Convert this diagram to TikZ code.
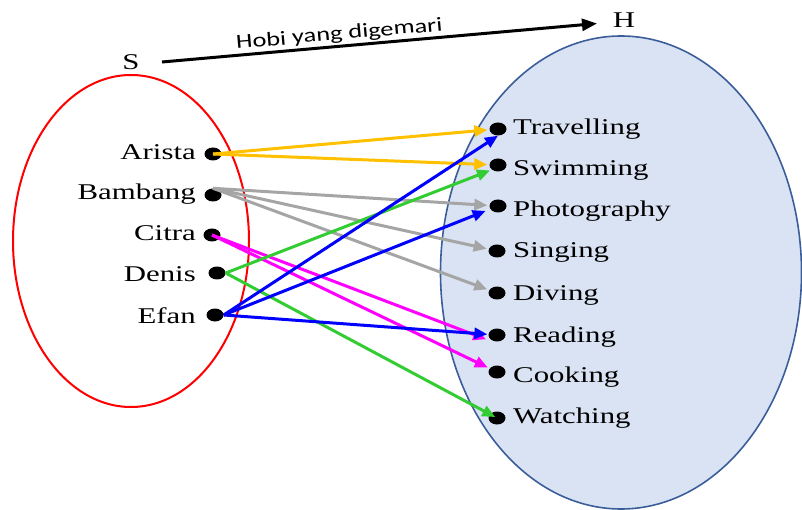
\documentclass[tikz,border=0pt]{standalone}
\usepackage{fontspec}
\usepackage{graphicx}
\setmainfont{Liberation Serif}
\newfontfamily\calfont{Carlito}
\usetikzlibrary{arrows.meta,shapes.geometric,calc}
\definecolor{cyel}{HTML}{FFC000}
\definecolor{cgry}{HTML}{A5A5A5}
\definecolor{cmag}{HTML}{FF00FF}
\definecolor{cgrn}{HTML}{33CC33}
\definecolor{cblu}{HTML}{0000FF}
\definecolor{ebord}{HTML}{3B5E9A}
\definecolor{efill}{HTML}{DAE3F3}
\newcommand\sxt[1]{\scalebox{1.37}[1]{#1}}
\begin{document}
\begin{tikzpicture}[x=1pt,y=-1pt,
  dotnode/.style={ellipse,fill=black,minimum width=17pt,minimum height=13pt,inner sep=0pt},
  lbl/.style={inner sep=0pt,font=\fontsize{22.5}{26}\selectfont},
  conn/.style={line width=3pt,-{Triangle[length=13pt,width=11pt]},shorten >=2pt},
  mainarr/.style={line width=3pt,-{Triangle[length=15pt,width=12pt]}}
]
\useasboundingbox (0,0) rectangle (802,510);
% sets
\draw[draw=ebord,fill=efill,line width=1.6pt] (621,272.5) ellipse [x radius=180.5pt, y radius=236.5pt];
\draw[red,line width=2pt] (131,241) ellipse [x radius=118pt, y radius=166pt];
% titles
\node[lbl] (S) at (131,62) {\sxt{S}};
\node[lbl] (H) at (624,20) {\sxt{H}};
\coordinate (a0) at (162,62);
\coordinate (a1) at (597,23.5);
\draw[mainarr] (a0) -- (a1) node[pos=0.41,sloped,above=1.5pt,inner sep=0pt,font=\calfont\fontsize{20}{24}\selectfont] (lab) {\scalebox{1.32}[1]{Hobi yang digemari}};
% left dots and labels
\node[dotnode] (arista) at (213,154) {};
\node[dotnode] (bambang) at (213,195) {};
\node[dotnode] (citra) at (212,235) {};
\node[dotnode] (denis) at (217,273) {};
\node[dotnode] (efan) at (215,315) {};
\node[lbl,anchor=base east] (tarista) at (196,160) {\sxt{Arista}};
\node[lbl,anchor=base east] (tbambang) at (196,200) {\sxt{Bambang}};
\node[lbl,anchor=base east] (tcitra) at (196,241) {\sxt{Citra}};
\node[lbl,anchor=base east] (tdenis) at (196,282) {\sxt{Denis}};
\node[lbl,anchor=base east] (tefan) at (196,323) {\sxt{Efan}};
% right dots and labels
\node[dotnode] (trav) at (498,129) {};
\node[dotnode] (swim) at (498,165) {};
\node[dotnode] (photo) at (498,206) {};
\node[dotnode] (sing) at (497,251) {};
\node[dotnode] (div) at (497,293) {};
\node[dotnode] (read) at (497,335) {};
\node[dotnode] (cook) at (497,372) {};
\node[dotnode] (watch) at (497,418) {};
\node[lbl,anchor=base west] (ttrav) at (513,135) {\sxt{Travelling}};
\node[lbl,anchor=base west] (tswim) at (513,176) {\sxt{Swimming}};
\node[lbl,anchor=base west] (tphoto) at (513,217) {\sxt{Photography}};
\node[lbl,anchor=base west] (tsing) at (513,258) {\sxt{Singing}};
\node[lbl,anchor=base west] (tdiv) at (513,300) {\sxt{Diving}};
\node[lbl,anchor=base west] (tread) at (513,342) {\sxt{Reading}};
\node[lbl,anchor=base west] (tcook) at (513,382) {\sxt{Cooking}};
\node[lbl,anchor=base west] (twatch) at (513,423) {\sxt{Watching}};
% connectors
\draw[conn,cyel] (arista.center) -- (trav);
\draw[conn,cyel] (arista.center) -- (swim);
\draw[conn,cgry] (bambang.north) -- (photo);
\draw[conn,cgry] (bambang.north) -- (sing);
\draw[conn,cgry] (bambang.north) -- (div);
\draw[conn,cmag] (citra.center) -- ($(read.center)+(-9,5)$);
\draw[conn,cmag] (citra.center) -- (cook);
\draw[conn,cgrn] (denis.east) -- (swim.south west);
\draw[conn,cgrn,shorten >=2pt] (denis.east) -- (watch.center);
\draw[conn,cblu,shorten >=0pt] (efan.east) -- (trav.south);
\draw[conn,cblu,shorten >=5pt] (efan.east) -- (photo);
\draw[conn,cblu,shorten >=1pt] (efan.east) -- (read);
\end{tikzpicture}
\end{document}
